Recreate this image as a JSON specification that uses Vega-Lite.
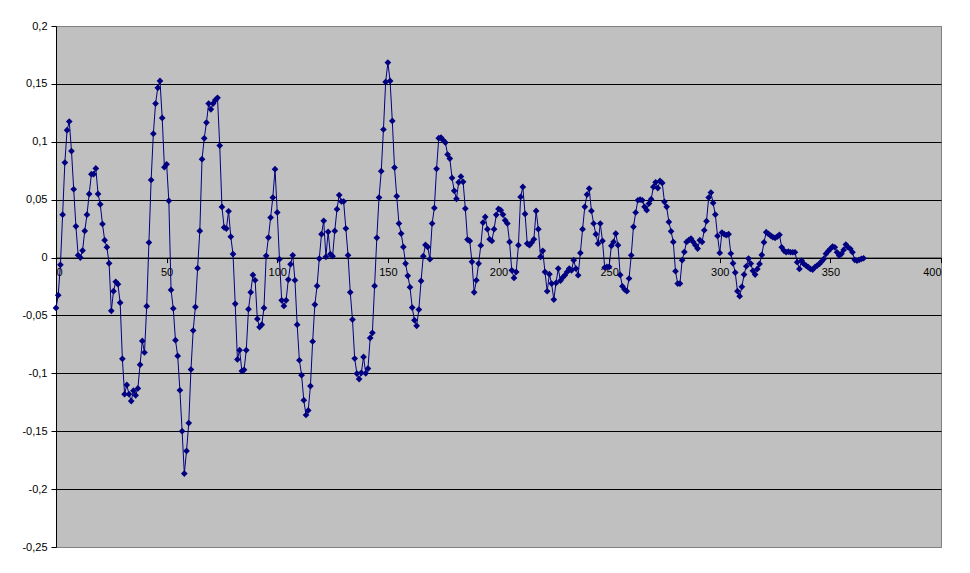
{
  "$schema": "https://vega.github.io/schema/vega-lite/v6.json",
  "width": 885,
  "height": 521,
  "autosize": "none",
  "padding": {"left": 56, "top": 26, "right": 29, "bottom": 26},
  "background": "white",
  "view": {"fill": "#C0C0C0", "stroke": "#808080", "strokeWidth": 1},
  "config": {
    "font": "Liberation Sans",
    "axis": {"labelFont": "Liberation Sans", "labelFontSize": 11, "labelColor": "black"}
  },
  "data": {"values": [
    {"x":0,"y":-0.0435},{"x":1,"y":-0.0325},{"x":2,"y":-0.0063},{"x":3,"y":0.037},{"x":4,"y":0.082},
    {"x":5,"y":0.110},{"x":6,"y":0.1175},{"x":7,"y":0.092},{"x":8,"y":0.059},{"x":9,"y":0.027},
    {"x":10,"y":0.002},{"x":11,"y":0.000},{"x":12,"y":0.006},{"x":13,"y":0.023},{"x":14,"y":0.037},
    {"x":15,"y":0.055},{"x":16,"y":0.072},{"x":17,"y":0.072},{"x":18,"y":0.077},{"x":19,"y":0.055},
    {"x":20,"y":0.046},{"x":21,"y":0.029},{"x":22,"y":0.015},{"x":23,"y":0.009},{"x":24,"y":-0.005},
    {"x":25,"y":-0.046},{"x":26,"y":-0.029},{"x":27,"y":-0.021},{"x":28,"y":-0.023},{"x":29,"y":-0.039},
    {"x":30,"y":-0.0875},{"x":31,"y":-0.118},{"x":32,"y":-0.110},{"x":33,"y":-0.118},{"x":34,"y":-0.124},
    {"x":35,"y":-0.115},{"x":36,"y":-0.119},{"x":37,"y":-0.113},{"x":38,"y":-0.0925},{"x":39,"y":-0.072},
    {"x":40,"y":-0.082},{"x":41,"y":-0.042},{"x":42,"y":0.013},{"x":43,"y":0.067},{"x":44,"y":0.107},
    {"x":45,"y":0.133},{"x":46,"y":0.1466},{"x":47,"y":0.1526},{"x":48,"y":0.1206},{"x":49,"y":0.078},
    {"x":50,"y":0.0806},{"x":51,"y":0.049},{"x":52,"y":-0.028},{"x":53,"y":-0.044},{"x":54,"y":-0.0714},
    {"x":55,"y":-0.085},{"x":56,"y":-0.1146},{"x":57,"y":-0.150},{"x":58,"y":-0.1866},{"x":59,"y":-0.167},
    {"x":60,"y":-0.143},{"x":61,"y":-0.0967},{"x":62,"y":-0.063},{"x":63,"y":-0.0426},{"x":64,"y":-0.0092},
    {"x":65,"y":0.023},{"x":66,"y":0.085},{"x":67,"y":0.103},{"x":68,"y":0.1166},{"x":69,"y":0.133},
    {"x":70,"y":0.128},{"x":71,"y":0.133},{"x":72,"y":0.136},{"x":73,"y":0.138},{"x":74,"y":0.0967},
    {"x":75,"y":0.0437},{"x":76,"y":0.026},{"x":77,"y":0.025},{"x":78,"y":0.040},{"x":79,"y":0.018},
    {"x":80,"y":0.003},{"x":81,"y":-0.040},{"x":82,"y":-0.088},{"x":83,"y":-0.080},{"x":84,"y":-0.098},
    {"x":85,"y":-0.097},{"x":86,"y":-0.080},{"x":87,"y":-0.0446},{"x":88,"y":-0.030},{"x":89,"y":-0.015},
    {"x":90,"y":-0.0196},{"x":91,"y":-0.053},{"x":92,"y":-0.060},{"x":93,"y":-0.058},{"x":94,"y":-0.0435},
    {"x":95,"y":0.0015},{"x":96,"y":0.0173},{"x":97,"y":0.0345},{"x":98,"y":0.0518},{"x":99,"y":0.0763},
    {"x":100,"y":0.039},{"x":101,"y":-0.0014},{"x":102,"y":-0.0369},{"x":103,"y":-0.0418},{"x":104,"y":-0.0369},
    {"x":105,"y":-0.019},{"x":106,"y":-0.0058},{"x":107,"y":0.002},{"x":108,"y":-0.0196},{"x":109,"y":-0.058},
    {"x":110,"y":-0.0887},{"x":111,"y":-0.1016},{"x":112,"y":-0.1232},{"x":113,"y":-0.136},{"x":114,"y":-0.132},
    {"x":115,"y":-0.111},{"x":116,"y":-0.0725},{"x":117,"y":-0.0406},{"x":118,"y":-0.0245},{"x":119,"y":-0.0009},
    {"x":120,"y":0.0202},{"x":121,"y":0.0317},{"x":122,"y":0.0006},{"x":123,"y":0.0222},{"x":124,"y":0.0029},
    {"x":125,"y":0.0012},{"x":126,"y":0.023},{"x":127,"y":0.0418},{"x":128,"y":0.054},{"x":129,"y":0.0484},
    {"x":130,"y":0.0484},{"x":131,"y":0.0251},{"x":132,"y":0.002},{"x":133,"y":-0.030},{"x":134,"y":-0.0536},
    {"x":135,"y":-0.0872},{"x":136,"y":-0.1002},{"x":137,"y":-0.105},{"x":138,"y":-0.0996},{"x":139,"y":-0.0858},
    {"x":140,"y":-0.100},{"x":141,"y":-0.0959},{"x":142,"y":-0.0694},{"x":143,"y":-0.065},{"x":144,"y":-0.0245},
    {"x":145,"y":0.017},{"x":146,"y":0.0518},{"x":147,"y":0.0746},{"x":148,"y":0.1106},{"x":149,"y":0.1517},
    {"x":150,"y":0.1684},{"x":151,"y":0.1526},{"x":152,"y":0.118},{"x":153,"y":0.0777},{"x":154,"y":0.053},
    {"x":155,"y":0.0294},{"x":156,"y":0.0207},{"x":157,"y":0.0092},{"x":158,"y":-0.0052},{"x":159,"y":-0.0158},
    {"x":160,"y":-0.0256},{"x":161,"y":-0.0432},{"x":162,"y":-0.0541},{"x":163,"y":-0.059},{"x":164,"y":-0.0449},
    {"x":165,"y":-0.0202},{"x":166,"y":0.0012},{"x":167,"y":0.0109},{"x":168,"y":0.0092},{"x":169,"y":-0.0014},
    {"x":170,"y":0.0294},{"x":171,"y":0.0429},{"x":172,"y":0.0766},{"x":173,"y":0.1031},{"x":174,"y":0.1037},
    {"x":175,"y":0.1014},{"x":176,"y":0.0993},{"x":177,"y":0.089},{"x":178,"y":0.0855},{"x":179,"y":0.0688},
    {"x":180,"y":0.0576},{"x":181,"y":0.0507},{"x":182,"y":0.065},{"x":183,"y":0.070},{"x":184,"y":0.0654},
    {"x":185,"y":0.0423},{"x":186,"y":0.0155},{"x":187,"y":0.0144},{"x":188,"y":-0.0037},{"x":189,"y":-0.030},
    {"x":190,"y":-0.0196},{"x":191,"y":-0.0052},{"x":192,"y":0.0104},{"x":193,"y":0.0302},{"x":194,"y":0.0351},
    {"x":195,"y":0.0245},{"x":196,"y":0.0158},{"x":197,"y":0.0144},{"x":198,"y":0.0245},{"x":199,"y":0.0369},
    {"x":200,"y":0.042},{"x":201,"y":0.0409},{"x":202,"y":0.0371},{"x":203,"y":0.0322},{"x":204,"y":0.0294},
    {"x":205,"y":0.0135},{"x":206,"y":-0.011},{"x":207,"y":-0.0176},{"x":208,"y":-0.0124},{"x":209,"y":0.0107},
    {"x":210,"y":0.0524},{"x":211,"y":0.061},{"x":212,"y":0.0377},{"x":213,"y":0.0121},{"x":214,"y":0.0107},
    {"x":215,"y":0.013},{"x":216,"y":0.0158},{"x":217,"y":0.0403},{"x":218,"y":0.0245},{"x":219,"y":0.0006},
    {"x":220,"y":0.0058},{"x":221,"y":-0.0124},{"x":222,"y":-0.0291},{"x":223,"y":-0.0144},{"x":224,"y":-0.0225},
    {"x":225,"y":-0.0363},{"x":226,"y":-0.0219},{"x":227,"y":-0.0095},{"x":228,"y":-0.020},{"x":229,"y":-0.0173},
    {"x":230,"y":-0.0153},{"x":231,"y":-0.0124},{"x":232,"y":-0.0095},{"x":233,"y":-0.011},{"x":234,"y":-0.0023},
    {"x":235,"y":-0.0095},{"x":236,"y":-0.0153},{"x":237,"y":0.004},{"x":238,"y":0.0245},{"x":239,"y":0.0438},
    {"x":240,"y":0.0544},{"x":241,"y":0.0596},{"x":242,"y":0.0403},{"x":243,"y":0.0294},{"x":244,"y":0.0202},
    {"x":245,"y":0.0121},{"x":246,"y":0.0294},{"x":247,"y":0.0144},{"x":248,"y":-0.0086},{"x":249,"y":-0.0081},
    {"x":250,"y":-0.008},{"x":251,"y":0.0101},{"x":252,"y":0.0135},{"x":253,"y":0.0207},{"x":254,"y":0.0107},
    {"x":255,"y":-0.015},{"x":256,"y":-0.0248},{"x":257,"y":-0.0276},{"x":258,"y":-0.029},{"x":259,"y":-0.0181},
    {"x":260,"y":0.002},{"x":261,"y":0.0265},{"x":262,"y":0.0389},{"x":263,"y":0.0495},{"x":264,"y":0.0501},
    {"x":265,"y":0.0495},{"x":266,"y":0.0438},{"x":267,"y":0.0409},{"x":268,"y":0.0466},{"x":269,"y":0.0504},
    {"x":270,"y":0.061},{"x":271,"y":0.065},{"x":272,"y":0.060},{"x":273,"y":0.0662},{"x":274,"y":0.0645},
    {"x":275,"y":0.0481},{"x":276,"y":0.0438},{"x":277,"y":0.0308},{"x":278,"y":0.0227},{"x":279,"y":0.0135},
    {"x":280,"y":-0.0118},{"x":281,"y":-0.0225},{"x":282,"y":-0.0225},{"x":283,"y":-0.0023},{"x":284,"y":0.0049},
    {"x":285,"y":0.0135},{"x":286,"y":0.015},{"x":287,"y":0.0164},{"x":288,"y":0.0135},{"x":289,"y":0.0107},
    {"x":290,"y":0.0078},{"x":291,"y":0.015},{"x":292,"y":0.0135},{"x":293,"y":0.0236},{"x":294,"y":0.0314},
    {"x":295,"y":0.0518},{"x":296,"y":0.0561},{"x":297,"y":0.0472},{"x":298,"y":0.0371},{"x":299,"y":0.0187},
    {"x":300,"y":0.004},{"x":301,"y":0.0216},{"x":302,"y":0.0202},{"x":303,"y":0.0193},{"x":304,"y":0.0202},
    {"x":305,"y":0.0035},{"x":306,"y":-0.005},{"x":307,"y":-0.013},{"x":308,"y":-0.029},{"x":309,"y":-0.0334},
    {"x":310,"y":-0.0253},{"x":311,"y":-0.0147},{"x":312,"y":-0.0075},{"x":313,"y":-0.0009},{"x":314,"y":-0.0052},
    {"x":315,"y":-0.0115},{"x":316,"y":-0.0147},{"x":317,"y":-0.0098},{"x":318,"y":-0.0055},{"x":319,"y":0.0023},
    {"x":320,"y":0.0132},{"x":321,"y":0.0219},{"x":322,"y":0.0204},{"x":323,"y":0.019},{"x":324,"y":0.0176},
    {"x":325,"y":0.017},{"x":326,"y":0.0181},{"x":327,"y":0.0196},{"x":328,"y":0.0089},{"x":329,"y":0.006},
    {"x":330,"y":0.0046},{"x":331,"y":0.0052},{"x":332,"y":0.0046},{"x":333,"y":0.0046},{"x":334,"y":0.0046},
    {"x":335,"y":-0.004},{"x":336,"y":-0.0098},{"x":337,"y":-0.0026},{"x":338,"y":-0.0055},{"x":339,"y":-0.0069},
    {"x":340,"y":-0.0083},{"x":341,"y":-0.0098},{"x":342,"y":-0.0104},{"x":343,"y":-0.0083},{"x":344,"y":-0.0069},
    {"x":345,"y":-0.0055},{"x":346,"y":-0.0035},{"x":347,"y":-0.0012},{"x":348,"y":0.0032},{"x":349,"y":0.0055},
    {"x":350,"y":0.0075},{"x":351,"y":0.0095},{"x":352,"y":0.0089},{"x":353,"y":0.0046},{"x":354,"y":0.0017},
    {"x":355,"y":0.0032},{"x":356,"y":0.0066},{"x":357,"y":0.0112},{"x":358,"y":0.0089},{"x":359,"y":0.0075},
    {"x":360,"y":0.0046},{"x":361,"y":-0.002},{"x":362,"y":-0.0026},{"x":363,"y":-0.002},{"x":364,"y":-0.0012},
    {"x":365,"y":-0.0006}
  ]},
  "mark": {
    "type": "line",
    "color": "#000080",
    "strokeWidth": 1,
    "point": {"shape": "diamond", "size": 45, "filled": true, "color": "#000080", "opacity": 1}
  },
  "encoding": {
    "x": {
      "field": "x", "type": "quantitative",
      "scale": {"domain": [0, 400], "nice": false, "zero": false},
      "axis": {
        "title": null, "values": [0, 50, 100, 150, 200, 250, 300, 350, 400],
        "orient": "bottom", "offset": -289.4, "grid": false,
        "domainColor": "black", "domainWidth": 1,
        "tickColor": "black", "tickSize": 5, "labelPadding": 4
      }
    },
    "y": {
      "field": "y", "type": "quantitative",
      "scale": {"domain": [-0.25, 0.2], "nice": false, "zero": false},
      "axis": {
        "title": null,
        "values": [-0.25, -0.2, -0.15, -0.1, -0.05, 0, 0.05, 0.1, 0.15, 0.2],
        "labelExpr": "replace(toString(datum.value), '.', ',')",
        "grid": true,
        "gridColor": {"condition": {"test": "datum.value == 0.2 || datum.value == -0.25", "value": "#808080"}, "value": "black"},
        "gridWidth": 1, "gridOpacity": 1,
        "domainColor": "black", "domainWidth": 1,
        "tickColor": "black", "tickSize": 5, "labelPadding": 4
      }
    }
  }
}
